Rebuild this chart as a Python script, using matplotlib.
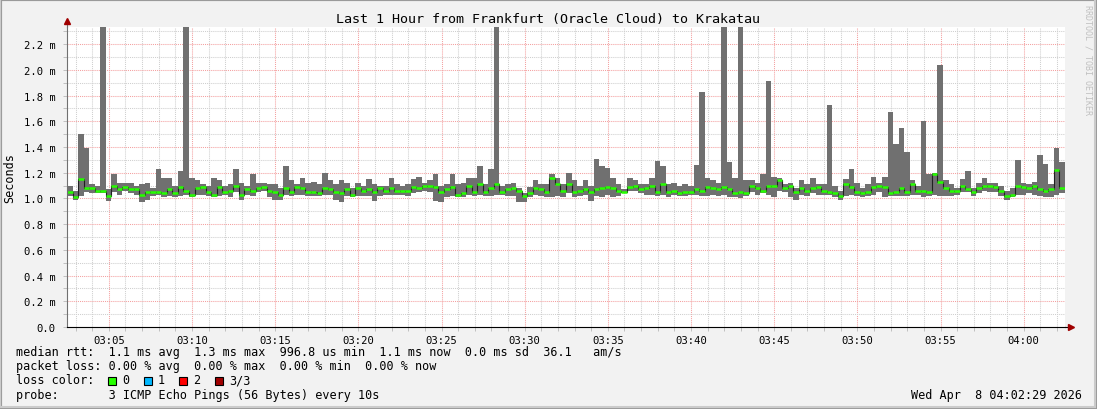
import numpy as np
import matplotlib
matplotlib.use("Agg")
import matplotlib.pyplot as plt
from matplotlib.patches import Rectangle
from matplotlib.ticker import MultipleLocator, FuncFormatter

W, H = 1097, 410

# time axis: minutes after 03:00, one sample every 20 s
t_start = 2 + 29 / 60.0
step = 1 / 3.0

# median rtt (ms)
median = [
    1.05, 1.01, 1.15, 1.08, 1.08, 1.06, 1.06, 1.02, 1.10, 1.07,
    1.09, 1.07, 1.07, 1.03, 1.05, 1.05, 1.05, 1.04, 1.07, 1.04,
    1.09, 1.06, 1.03, 1.08, 1.09, 1.05, 1.03, 1.09, 1.05, 1.06,
    1.10, 1.03, 1.07, 1.06, 1.08, 1.09, 1.06, 1.05, 1.03, 1.08,
    1.05, 1.09, 1.08, 1.05, 1.05, 1.04, 1.08, 1.07, 1.05, 1.04,
    1.07, 1.03, 1.08, 1.06, 1.07, 1.05, 1.08, 1.06, 1.08, 1.06,
    1.06, 1.06, 1.09, 1.08, 1.10, 1.10, 1.09, 1.05, 1.07, 1.09,
    1.03, 1.04, 1.10, 1.05, 1.11, 1.05, 1.08, 1.11, 1.05, 1.07,
    1.08, 1.06, 1.02, 1.04, 1.08, 1.07, 1.05, 1.16, 1.11, 1.06,
    1.11, 1.05, 1.06, 1.07, 1.05, 1.07, 1.08, 1.09, 1.08, 1.06,
    1.05, 1.09, 1.10, 1.07, 1.08, 1.10, 1.05, 1.11, 1.05, 1.06,
    1.04, 1.05, 1.05, 1.07, 1.06, 1.09, 1.08, 1.07, 1.09, 1.07,
    1.04, 1.05, 1.04, 1.10, 1.08, 1.06, 1.10, 1.10, 1.14, 1.08,
    1.10, 1.05, 1.08, 1.06, 1.08, 1.09, 1.06, 1.05, 1.04, 1.02,
    1.11, 1.09, 1.05, 1.04, 1.05, 1.09, 1.10, 1.09, 1.04, 1.05,
    1.08, 1.05, 1.11, 1.06, 1.06, 1.05, 1.19, 1.13, 1.08, 1.06,
    1.06, 1.10, 1.07, 1.05, 1.08, 1.10, 1.10, 1.09, 1.06, 1.02,
    1.03, 1.10, 1.09, 1.08, 1.10, 1.07, 1.06, 1.07, 1.22, 1.08,
]

# smoke: fastest and slowest ping per sample (ms)
smoke_lo = [
    1.02, 0.99, 1.02, 1.05, 1.04, 1.04, 1.04, 0.98, 1.05, 1.03,
    1.06, 1.04, 1.03, 0.97, 0.99, 1.02, 1.03, 1.01, 1.02, 1.01,
    1.02, 1.03, 1.01, 1.03, 1.03, 1.02, 1.01, 1.02, 1.03, 1.01,
    1.05, 0.99, 1.03, 1.02, 1.05, 1.06, 1.01, 0.99, 0.99, 1.03,
    1.02, 1.03, 1.03, 1.02, 1.02, 1.02, 1.03, 1.03, 0.99, 0.97,
    1.02, 1.01, 1.02, 1.02, 1.02, 0.98, 1.02, 1.03, 1.03, 1.03,
    1.03, 1.02, 1.04, 1.05, 1.06, 1.05, 0.98, 0.97, 1.01, 1.02,
    1.01, 1.01, 1.03, 1.02, 1.03, 1.02, 1.02, 1.03, 1.03, 1.02,
    1.02, 0.97, 0.97, 1.01, 1.03, 1.02, 1.01, 1.01, 1.02, 1.01,
    1.04, 1.01, 1.02, 1.03, 0.98, 1.02, 1.01, 1.03, 1.01, 1.02,
    1.04, 1.06, 1.06, 1.04, 1.03, 1.03, 1.02, 1.03, 1.01, 1.03,
    1.02, 1.02, 1.03, 1.03, 1.02, 1.02, 1.03, 1.02, 1.03, 1.01,
    1.01, 1.00, 1.02, 1.05, 1.03, 1.04, 1.03, 1.01, 1.06, 1.05,
    1.01, 0.99, 1.03, 1.02, 1.04, 1.03, 1.03, 1.03, 1.01, 0.99,
    1.02, 1.03, 1.02, 1.01, 1.02, 1.03, 1.05, 1.01, 1.02, 1.02,
    1.02, 1.02, 1.03, 1.03, 1.01, 1.02, 1.03, 1.02, 1.02, 1.02,
    1.03, 1.05, 1.05, 1.02, 1.04, 1.06, 1.05, 1.05, 1.02, 0.99,
    1.01, 1.03, 1.03, 1.04, 1.03, 1.02, 1.01, 1.01, 1.03, 1.04,
]
smoke_hi = [
    1.10, 1.06, 1.50, 1.39, 1.11, 1.10, 2.50, 1.07, 1.19, 1.12,
    1.12, 1.12, 1.10, 1.11, 1.12, 1.08, 1.23, 1.16, 1.16, 1.10,
    1.21, 2.50, 1.16, 1.14, 1.11, 1.10, 1.16, 1.14, 1.10, 1.11,
    1.23, 1.12, 1.10, 1.19, 1.12, 1.12, 1.11, 1.11, 1.08, 1.25,
    1.14, 1.11, 1.16, 1.12, 1.13, 1.11, 1.20, 1.14, 1.11, 1.14,
    1.12, 1.08, 1.12, 1.10, 1.15, 1.11, 1.10, 1.10, 1.16, 1.11,
    1.10, 1.11, 1.15, 1.17, 1.12, 1.14, 1.19, 1.10, 1.11, 1.19,
    1.11, 1.12, 1.16, 1.16, 1.25, 1.11, 1.23, 2.50, 1.10, 1.11,
    1.12, 1.08, 1.04, 1.09, 1.14, 1.11, 1.11, 1.19, 1.16, 1.11,
    1.20, 1.14, 1.10, 1.14, 1.10, 1.31, 1.25, 1.24, 1.16, 1.11,
    1.07, 1.16, 1.14, 1.11, 1.11, 1.16, 1.29, 1.25, 1.11, 1.12,
    1.10, 1.11, 1.10, 1.26, 1.83, 1.16, 1.14, 1.12, 2.50, 1.28,
    1.16, 2.50, 1.14, 1.14, 1.12, 1.19, 1.91, 1.17, 1.16, 1.11,
    1.12, 1.08, 1.14, 1.11, 1.16, 1.11, 1.11, 1.73, 1.10, 1.06,
    1.15, 1.23, 1.12, 1.08, 1.11, 1.17, 1.12, 1.17, 1.67, 1.42,
    1.55, 1.36, 1.14, 1.10, 1.60, 1.19, 1.20, 2.04, 1.14, 1.11,
    1.08, 1.15, 1.21, 1.08, 1.12, 1.16, 1.12, 1.12, 1.10, 1.06,
    1.08, 1.30, 1.12, 1.11, 1.13, 1.34, 1.27, 1.11, 1.39, 1.28,
]

title = "Last 1 Hour from Frankfurt (Oracle Cloud) to Krakatau"
legend_lines = [
    "median rtt:  1.1 ms avg  1.3 ms max  996.8 us min  1.1 ms now  0.0 ms sd  36.1   am/s",
    "packet loss: 0.00 % avg  0.00 % max  0.00 % min  0.00 % now",
    "loss color:",
    "probe:       3 ICMP Echo Pings (56 Bytes) every 10s",
]
loss_labels = ["0", "1", "2", "3/3"]
loss_colors = ["#26ff00", "#00b8ff", "#ff0000", "#a00000"]
stamp = "Wed Apr  8 04:02:29 2026"

MONO = "DejaVu Sans Mono"
plt.rcParams["font.family"] = MONO


def fx(x):
    return x / W


def fy(y):
    return 1 - y / H


fig = plt.figure(figsize=(W / 100, H / 100), dpi=100, facecolor="#f2f2f2")

# 3d-ish frame like rrdtool
fig.patches.append(Rectangle((0, 0), 1, 1, transform=fig.transFigure,
                             fill=False, edgecolor="#9a9a9a", lw=3))
fig.patches.append(Rectangle((0, fy(H - 2)), fx(W - 2), 1, transform=fig.transFigure,
                             fill=False, edgecolor="#cbcbcb", lw=1.5))

left, right, top, bottom = 67, 1065, 28, 328
ax = fig.add_axes([fx(left), fy(bottom), fx(right - left), (bottom - top) / H])
ax.set_facecolor("white")

t = t_start + step * np.arange(len(median))
t_edge = np.append(t, t[-1] + step)
lo_e = np.append(smoke_lo, smoke_lo[-1])
hi_e = np.append(smoke_hi, smoke_hi[-1])
med_e = np.append(median, median[-1])

ax.fill_between(t_edge, lo_e, hi_e, step="post", color="#707070", lw=0, zorder=3)
ax.step(t_edge, med_e, where="post", color="#202020", lw=0.8, zorder=4)
ax.hlines(median, t, t + step, color=loss_colors[0], lw=1.8, zorder=5)

ax.set_xlim(t_start, t_start + 60)
ax.set_ylim(0, 2.333)

ax.xaxis.set_major_locator(MultipleLocator(5))
ax.xaxis.set_minor_locator(MultipleLocator(1))
ax.yaxis.set_major_locator(MultipleLocator(0.2))
ax.yaxis.set_minor_locator(MultipleLocator(0.1))
ax.xaxis.set_major_formatter(FuncFormatter(
    lambda v, p: "%02d:%02d" % (3 + int(round(v)) // 60, int(round(v)) % 60)))
ax.yaxis.set_major_formatter(FuncFormatter(
    lambda v, p: "0.0" if abs(v) < 1e-9 else "%.1f m" % v))

ax.grid(which="major", color="#f4a0a0", ls=(0, (1, 1)), lw=0.75, zorder=1)
ax.grid(which="minor", color="#cfcfcf", ls=(0, (1, 1)), lw=0.75, zorder=1)
ax.tick_params(which="both", length=3, width=0.7, color="#c0c0c0",
               labelsize=7.6, pad=3)
ax.tick_params(axis="y", pad=5)

for s in ["top", "right"]:
    ax.spines[s].set_visible(False)
ax.spines["left"].set_color("#707070")
ax.spines["bottom"].set_color("black")
ax.spines["left"].set_zorder(6)
ax.spines["bottom"].set_zorder(6)

# axis arrows
ax.plot([0, 0], [1, 1.02], transform=ax.transAxes, color="#707070",
        lw=0.8, clip_on=False)
ax.plot([1, 1.006], [0, 0], transform=ax.transAxes, color="black",
        lw=0.8, clip_on=False)
ax.plot([0], [1.02], transform=ax.transAxes, marker="^", ms=4.5,
        color="#a00000", clip_on=False)
ax.plot([1.006], [0], transform=ax.transAxes, marker=">", ms=4.5,
        color="#a00000", clip_on=False)

fig.text(0.5, fy(19), title, ha="center", va="center", fontsize=9.6)
fig.text(fx(10), fy(178), "Seconds", rotation=90, ha="center", va="center",
         fontsize=8.5)
fig.text(fx(1088), fy(60), "RRDTOOL / TOBI OETIKER", rotation=270,
         ha="center", va="center", fontsize=6, color="#c0c0c0")

rows_y = [353, 367, 381, 396]
for line, y in zip(legend_lines, rows_y):
    fig.text(fx(16), fy(y), line, ha="left", va="center", fontsize=8.5)

char_w = 7.1
pos = 13
for lab, col in zip(loss_labels, loss_colors):
    bx = 16 + pos * char_w
    fig.patches.append(Rectangle((fx(bx), fy(386)), fx(8), 8 / H,
                                 transform=fig.transFigure, facecolor=col,
                                 edgecolor="black", lw=0.8))
    fig.text(fx(bx + 2 * char_w), fy(381), lab, ha="left", va="center",
             fontsize=8.5)
    pos += 2 + len(lab) + 2

fig.text(fx(1082), fy(396), stamp, ha="right", va="center", fontsize=8.5)

fig.savefig("out.png", dpi=100, facecolor=fig.get_facecolor())
